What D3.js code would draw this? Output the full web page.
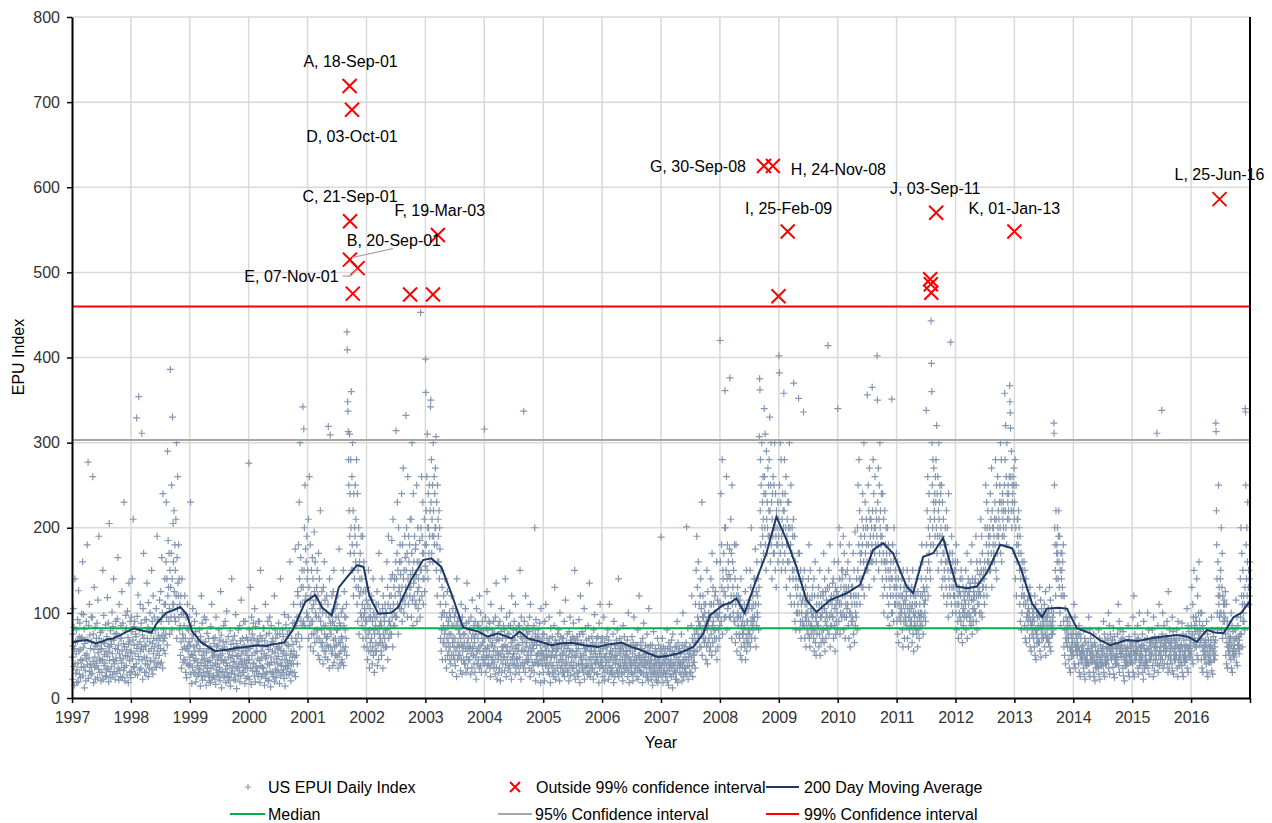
<!DOCTYPE html>
<html>
<head>
<meta charset="utf-8">
<script src="https://d3js.org/d3.v7.min.js"></script>
<style>
body { margin: 0; background: #fff; }
svg { font-family: "Liberation Sans", Arial, sans-serif; }
</style>
</head>
<body>
<div id="chart"></div>
<script>
// ---- data ----
const yearTicks = d3.range(1997, 2018)
const yTicks = d3.range(0, 801, 100)

const medianLevel = 82
const ci95Level = 303
const ci99Level = 460

// 200 day moving average, [decimal year, value]
const movingAvg = [
  [1997.0,65],[1997.1,67],[1997.25,68],[1997.4,64],[1997.5,66],[1997.6,69],[1997.7,70],[1997.85,75],[1998.05,82],[1998.2,79],
  [1998.35,77],[1998.44,88],[1998.6,100],[1998.75,104],[1998.84,107],[1998.95,98],[1999.04,78],[1999.2,65],[1999.43,55],[1999.55,56],
  [1999.66,57],[1999.8,59],[1999.95,60],[2000.15,62],[2000.3,61],[2000.4,63],[2000.6,65],[2000.75,80],[2000.96,113],[2001.13,121],
  [2001.25,106],[2001.41,97],[2001.53,130],[2001.67,142],[2001.84,156],[2001.95,154],[2002.05,120],[2002.2,99],[2002.42,100],[2002.54,107],
  [2002.76,139],[2002.96,162],[2003.1,164],[2003.27,154],[2003.44,123],[2003.64,83],[2003.9,78],[2004.06,72],[2004.23,76],[2004.46,70],
  [2004.6,78],[2004.74,70],[2004.95,66],[2005.14,62],[2005.3,64],[2005.48,65],[2005.7,62],[2005.93,60],[2006.1,63],[2006.33,65],
  [2006.5,60],[2006.67,56],[2006.8,52],[2006.95,48],[2007.15,50],[2007.32,53],[2007.55,60],[2007.72,76],[2007.83,97],[2008.05,109],
  [2008.18,112],[2008.28,117],[2008.42,100],[2008.62,139],[2008.79,170],[2008.96,213],[2009.13,186],[2009.3,154],[2009.47,115],[2009.64,101],
  [2009.87,115],[2010.15,123],[2010.38,133],[2010.6,174],[2010.77,182],[2010.94,170],[2011.17,131],[2011.28,123],[2011.45,166],[2011.62,170],
  [2011.79,188],[2011.91,158],[2012.02,131],[2012.2,129],[2012.36,131],[2012.53,147],[2012.76,180],[2012.96,176],[2013.1,154],[2013.3,111],
  [2013.47,95],[2013.55,105],[2013.75,106],[2013.89,105],[2014.06,82],[2014.29,76],[2014.45,68],[2014.63,62],[2014.91,68],[2015.1,67],
  [2015.3,70],[2015.5,72],[2015.76,74],[2015.95,72],[2016.1,66],[2016.27,80],[2016.4,77],[2016.55,76],[2016.72,95],[2016.85,100],[2016.99,113]
]

// daily index, sampled per month: "yyyy-mm|values"
const dailyIndex = [
  "1997-01|48 22 75 61 105 37 83 15 58 140 40 66 29 52 80 18","1997-02|33 67 92 41 19 126 55 72 28 88 57 24 45 70 36 99",
  "1997-03|71 44 160 26 59 98 37 81 12 64 50 32 68 20 90 46","1997-04|52 180 39 68 277 23 85 47 110 31 74 40 58 27 95 36",
  "1997-05|66 29 95 260 43 75 18 57 130 36 48 83 22 61 38 70","1997-06|41 88 62 24 115 53 34 190 70 46 30 57 77 44 20 66",
  "1997-07|58 30 79 45 150 22 66 97 38 51 64 41 25 86 55 33","1997-08|26 72 49 118 35 61 88 19 54 205 44 60 31 79 24 67",
  "1997-09|63 37 101 52 27 84 45 140 68 31 40 75 22 58 90 47","1997-10|44 76 29 93 57 165 35 62 21 110 52 33 70 47 25 85",
  "1997-11|70 41 125 55 24 88 46 64 32 230 36 60 20 79 50 97","1997-12|38 82 57 27 102 49 71 18 63 135 66 44 30 90 53 24",
  "1998-01|55 95 31 78 140 46 68 210 37 84 62 36 90 52 28 75","1998-02|72 40 329 58 96 27 63 121 49 354 45 80 33 66 110 55",
  "1998-03|35 88 60 311 45 74 22 105 57 170 70 48 30 92 62 40","1998-04|61 30 92 47 135 70 39 83 25 112 55 80 35 66 100 44",
  "1998-05|44 76 58 150 33 90 64 28 120 52 70 42 95 60 36 82","1998-06|80 47 105 36 68 190 55 92 41 74 62 92 50 115 70 40",
  "1998-07|58 125 90 42 165 73 100 35 240 67 80 56 110 70 140 52","1998-08|110 75 160 230 95 140 62 290 120 185 130 90 170 105 75 150",
  "1998-09|386 130 95 170 250 80 140 330 110 205 160 110 220 125 95 180","1998-10|150 90 210 120 300 70 165 105 260 135 120 180 95 140 80 110",
  "1998-11|85 50 120 66 35 98 140 57 75 42 70 100 45 85 60 120","1998-12|45 70 30 95 58 24 82 40 110 61 55 80 38 66 95 48",
  "1999-01|40 62 230 28 85 51 17 70 36 105 50 75 30 60 44 90","1999-02|55 30 78 19 46 99 62 25 38 68 42 66 28 55 35 80",
  "1999-03|33 58 14 72 41 120 26 50 88 21 45 65 30 55 38 95","1999-04|47 25 66 38 92 15 53 31 76 43 35 58 26 70 44 20",
  "1999-05|29 61 42 18 84 35 57 110 24 48 55 38 70 26 50 64","1999-06|52 22 71 40 16 95 33 60 27 45 40 62 30 48 80 25",
  "1999-07|36 68 20 50 125 31 74 12 44 58 52 30 66 42 85 24","1999-08|60 27 45 90 34 18 66 41 102 30 38 55 25 72 48 20",
  "1999-09|24 55 38 79 14 47 63 29 140 35 50 32 68 42 58 22","1999-10|43 73 28 56 21 98 37 64 11 49 60 35 50 26 80 40",
  "1999-11|58 32 85 19 46 67 26 115 39 52 42 70 30 55 36 90","1999-12|30 62 44 17 90 36 55 23 71 41 50 35 68 25 58 45",
  "2000-01|276 45 80 22 58 130 35 68 16 95 50 75 32 62 40 88","2000-02|41 70 26 105 53 19 84 37 61 31 55 35 68 46 25 90",
  "2000-03|66 29 90 44 18 73 150 38 55 25 48 70 36 60 28 82","2000-04|35 82 52 15 67 28 110 46 23 74 50 30 62 40 90 20",
  "2000-05|57 21 76 39 95 31 62 13 48 85 42 66 30 55 70 25","2000-06|28 64 42 120 19 53 80 34 70 24 46 60 32 75 40 58",
  "2000-07|49 88 30 60 17 75 40 140 26 56 38 65 45 30 80 52","2000-08|72 33 55 23 98 45 14 66 37 86 50 28 62 42 75 35",
  "2000-09|38 95 61 27 79 44 160 31 52 20 55 40 70 30 48 88","2000-10|63 40 110 55 30 88 48 175 25 70 85 50 66 95 40 125",
  "2000-11|120 75 180 95 230 140 60 300 110 165 90 130 70 150 110 85","2000-12|342 130 90 316 150 200 85 250 115 175 120 160 100 190 140 95",
  "2001-01|150 95 210 70 130 260 85 115 180 60 120 90 150 75 105 165","2001-02|90 140 55 110 75 195 125 65 160 100 115 80 95 130 70 150",
  "2001-03|80 120 50 170 95 70 140 45 105 220 90 65 110 80 125 60","2001-04|65 100 40 130 85 55 160 75 115 48 85 55 100 70 120 62",
  "2001-05|72 45 110 319 60 95 35 140 80 309 88 60 75 100 52 120","2001-06|55 90 38 125 68 150 42 85 60 105 70 50 95 62 80 110",
  "2001-07|48 80 120 35 95 65 175 52 88 40 65 85 55 100 72 45","2001-08|70 42 105 60 150 38 85 125 55 95 80 60 95 70 110 50",
  "2001-09|430 409 348 337 313 280 250 220 310 190 240 170 280 200 360 150","2001-10|260 180 300 150 220 120 240 170 140 200 190 250 160 210 130 280",
  "2001-11|180 110 240 90 150 130 200 75 120 160 140 170 100 125 190 95","2001-12|140 85 110 190 70 125 95 160 60 105 100 80 125 90 70 115",
  "2002-01|90 60 130 45 110 75 150 55 95 35 80 105 65 95 55 120","2002-02|70 115 40 90 60 140 50 100 80 30 75 95 55 85 65 110",
  "2002-03|55 95 125 38 80 62 110 45 170 75 85 65 100 70 90 55","2002-04|85 50 140 65 105 35 120 75 60 95 90 70 110 80 60 100",
  "2002-05|100 60 160 80 130 45 110 190 70 90 90 120 75 105 85 140","2002-06|120 75 185 95 145 60 210 110 85 130 100 140 85 120 95 160",
  "2002-07|314 140 95 170 230 110 150 75 200 125 130 160 105 180 120 145","2002-08|160 105 240 130 90 180 115 270 140 100 150 120 190 110 165 130",
  "2002-09|332 150 200 120 170 95 260 140 110 190 160 130 180 120 210 145","2002-10|130 210 95 170 300 115 150 85 240 135 160 120 190 140 110 175",
  "2002-11|180 110 145 250 90 160 125 200 105 140 130 160 115 185 95 150","2002-12|453 200 150 260 120 190 170 230 140 110 170 140 210 125 180 155",
  "2003-01|398 359 220 180 260 150 310 200 140 240 200 170 250 190 160 220","2003-02|342 350 230 280 170 210 190 250 160 300 220 190 260 180 240 200",
  "2003-03|270 200 307 150 230 180 120 250 160 210 190 160 220 140 200 175","2003-04|110 70 150 55 95 80 130 45 100 65 85 120 65 100 75 140",
  "2003-05|80 45 110 60 35 95 70 125 50 85 65 90 55 75 100 45","2003-06|60 95 40 75 120 50 85 30 65 105 70 50 85 60 95 45",
  "2003-07|70 38 100 55 85 25 140 60 45 90 65 80 50 95 60 75","2003-08|50 85 32 70 110 45 62 28 95 55 60 75 45 85 65 40",
  "2003-09|75 40 105 58 30 88 48 135 65 35 55 70 45 90 60 80","2003-10|45 80 60 28 95 52 70 35 115 58 60 75 50 85 40 70",
  "2003-11|65 30 90 48 75 22 105 55 40 85 55 70 45 85 60 35","2003-12|120 55 80 38 100 62 30 75 48 90 65 45 80 55 70 40",
  "2004-01|316 70 45 95 58 30 82 50 125 38 60 80 48 70 40 90","2004-02|55 88 35 70 25 110 48 62 40 80 65 45 75 55 90 35",
  "2004-03|42 75 60 28 95 50 135 36 68 22 55 70 45 85 50 30","2004-04|68 35 90 52 20 78 45 105 30 60 55 70 40 60 85 48",
  "2004-05|48 80 32 62 140 40 70 25 95 55 60 45 75 52 35 85","2004-06|75 38 100 55 30 85 45 65 22 120 60 48 70 40 80 52",
  "2004-07|52 90 40 68 28 110 58 35 80 46 62 45 75 55 38 85","2004-08|62 30 85 48 150 38 72 22 95 56 55 70 42 65 80 35",
  "2004-09|337 55 90 40 70 30 120 60 45 80 65 50 75 42 85 55","2004-10|45 78 35 95 60 25 110 50 68 32 55 70 42 62 80 38",
  "2004-11|58 85 30 65 200 42 75 20 92 50 62 45 72 52 40 80","2004-12|40 70 52 28 88 45 62 18 105 55 55 45 68 38 75 50",
  "2005-01|52 30 75 45 20 90 60 38 110 48 55 40 70 48 62 30","2005-02|65 35 55 95 28 70 42 18 82 50 48 62 38 72 55 30",
  "2005-03|38 60 25 85 48 130 32 68 22 55 50 65 42 58 35 75","2005-04|58 28 80 42 65 20 100 50 35 72 45 60 38 70 52 30",
  "2005-05|45 70 30 55 90 25 62 40 115 35 50 65 42 58 75 32","2005-06|30 62 48 20 78 55 38 95 26 68 55 42 65 48 35 72",
  "2005-07|55 35 88 42 70 28 150 50 22 65 48 62 38 55 72 30","2005-08|68 25 58 40 92 32 75 18 48 120 52 40 65 45 78 35",
  "2005-09|40 75 30 62 50 105 22 58 35 82 55 45 68 38 60 28","2005-10|60 38 85 28 70 45 135 32 55 25 48 62 40 55 72 35",
  "2005-11|35 65 48 22 80 55 30 98 42 60 52 40 62 45 70 28","2005-12|48 28 72 40 60 18 88 52 35 110 55 42 65 48 38 70",
  "2006-01|42 70 25 58 35 95 48 20 65 30 48 38 60 52 42 72","2006-02|60 32 80 45 22 68 38 110 52 28 45 55 35 62 48 30",
  "2006-03|35 55 28 75 42 18 90 48 62 25 50 40 58 45 68 32","2006-04|50 80 30 62 40 140 25 55 35 70 45 58 38 52 65 30",
  "2006-05|28 60 45 20 85 38 55 30 72 42 48 35 62 50 40 55","2006-06|55 35 68 25 48 100 32 60 18 45 42 55 38 62 45 30",
  "2006-07|38 72 28 52 20 65 42 95 30 58 48 40 58 35 62 45","2006-08|45 25 62 35 80 22 50 38 120 32 50 42 58 30 65 45",
  "2006-09|30 58 40 18 70 48 28 88 36 55 45 52 38 62 42 25","2006-10|52 30 75 42 25 60 20 48 105 35 40 55 35 62 45 28",
  "2006-11|22 45 35 62 15 52 28 78 40 30 38 50 32 58 45 25","2006-12|40 20 55 30 70 18 45 25 62 35 42 35 50 28 58 38",
  "2007-01|189 35 55 25 70 42 18 60 30 48 40 52 32 58 45 25","2007-02|28 50 38 80 20 58 32 45 15 65 42 35 55 28 60 40",
  "2007-03|45 25 68 35 55 12 75 40 28 52 38 50 32 60 42 22","2007-04|30 60 22 48 90 35 18 65 42 55 45 38 58 30 52 40",
  "2007-05|52 28 75 40 20 62 35 100 45 25 42 55 35 60 48 30","2007-06|35 65 45 201 28 55 38 82 22 48 45 52 38 60 30 55",
  "2007-07|60 30 85 48 120 38 70 25 55 42 50 65 42 75 55 35","2007-08|110 65 150 80 190 55 130 95 75 160 90 70 110 85 60 120",
  "2007-09|85 140 60 105 75 230 50 95 120 70 95 80 110 65 100 85","2007-10|70 110 45 90 60 150 80 40 125 65 85 100 70 95 55 110",
  "2007-11|95 60 140 75 110 50 170 85 65 130 90 110 80 100 70 120","2007-12|80 125 55 100 70 160 45 95 115 60 95 80 110 70 100 85",
  "2008-01|420 160 110 240 90 180 130 280 75 150 140 110 170 125 95 200","2008-02|361 120 200 95 150 260 80 140 180 105 130 160 110 145 95 175",
  "2008-03|376 140 95 210 120 170 70 250 110 160 130 100 150 120 90 180","2008-04|90 140 65 110 180 75 120 55 95 130 100 85 120 95 75 110",
  "2008-05|70 115 50 95 140 60 85 45 105 75 90 75 100 80 65 110","2008-06|85 60 125 45 100 70 150 55 90 65 90 75 105 80 65 115",
  "2008-07|110 75 150 60 130 90 200 70 105 85 95 120 80 110 90 140","2008-08|95 140 70 175 110 60 125 85 160 100 120 95 140 110 80 130",
  "2008-09|307 375 362 220 280 180 250 160 300 200 230 190 260 210 170 240","2008-10|340 260 200 310 180 240 150 290 210 170 230 200 270 190 250 220",
  "2008-11|280 190 330 220 160 250 300 180 230 140 210 240 190 260 170 200","2008-12|250 170 300 200 150 240 190 130 220 180 200 180 230 160 210 190",
  "2009-01|402 382 250 200 300 170 230 280 150 190 210 180 240 160 220 200","2009-02|358 220 280 170 240 150 200 260 130 180 190 210 160 230 180 200",
  "2009-03|230 160 300 140 200 120 180 250 110 170 170 200 150 190 140 210","2009-04|370 150 110 190 90 160 130 80 140 100 120 150 100 130 110 170",
  "2009-05|352 140 100 170 80 120 90 150 70 110 100 130 90 115 140 85","2009-06|336 120 85 150 70 110 95 130 60 100 90 110 80 120 100 75",
  "2009-07|140 90 180 70 115 60 150 85 105 75 100 85 120 95 130 80","2009-08|100 70 140 55 120 80 160 65 95 50 90 110 75 100 85 120",
  "2009-09|85 130 60 110 75 150 50 95 120 65 95 110 80 100 70 125","2009-10|120 80 170 65 105 140 55 90 125 70 100 115 85 95 130 80",
  "2009-11|414 110 150 75 130 95 180 60 115 85 100 120 85 110 95 135","2009-12|95 140 70 120 160 85 105 55 130 75 110 90 125 100 80 115",
  "2010-01|340 120 160 90 200 110 140 75 180 100 130 110 150 95 140 120","2010-02|150 100 190 80 130 170 95 120 70 145 110 130 95 125 105 150",
  "2010-03|110 160 85 130 70 180 100 140 60 120 100 120 90 130 110 95","2010-04|130 90 170 75 120 150 65 110 195 85 100 120 95 140 110 80",
  "2010-05|200 150 250 120 180 280 140 220 110 170 160 190 140 170 130 210","2010-06|180 240 130 200 160 300 120 190 150 230 170 200 150 210 180 160",
  "2010-07|356 200 150 250 180 220 130 270 160 210 190 170 210 160 200 180","2010-08|365 220 160 280 190 240 140 200 170 260 200 180 220 160 210 190",
  "2010-09|402 350 230 180 270 150 210 250 170 300 200 220 190 180 240 160","2010-10|190 140 240 120 170 210 100 160 130 220 160 180 150 200 140 170",
  "2010-11|160 120 200 95 150 180 110 140 85 170 130 150 120 160 140 100","2010-12|351 140 100 180 120 160 90 200 130 110 130 150 110 140 120 170",
  "2011-01|130 90 160 75 110 140 65 120 95 150 110 100 130 90 120 105","2011-02|100 140 80 120 60 150 110 90 130 70 100 115 90 110 95 125",
  "2011-03|120 85 150 70 105 130 60 95 140 80 100 110 90 120 85 105","2011-04|90 130 65 110 150 75 100 55 120 85 95 110 85 100 120 80",
  "2011-05|110 75 140 90 60 125 100 80 150 70 95 110 85 100 120 90","2011-06|140 100 180 85 120 160 75 130 95 110 110 125 100 115 90 140",
  "2011-07|338 180 130 220 150 260 120 200 160 240 170 190 150 210 140 180","2011-08|443 393 360 300 250 200 280 180 230 270 220 210 240 190 260 230",
  "2011-09|280 200 320 170 240 190 260 150 220 300 210 230 190 250 180 240","2011-10|200 160 250 130 190 230 140 170 210 120 170 150 180 140 200 160",
  "2011-11|180 130 220 110 160 200 120 150 95 240 140 160 130 170 120 150","2011-12|418 150 110 190 130 170 100 160 140 120 130 140 120 150 110 160",
  "2012-01|150 100 180 80 130 110 160 90 120 70 110 130 100 125 95 140","2012-02|120 90 150 75 110 140 65 100 130 85 105 120 95 115 100 125",
  "2012-03|110 150 80 130 95 170 70 120 100 140 110 125 100 120 90 135","2012-04|130 95 160 85 115 180 75 140 105 90 115 125 105 120 100 135",
  "2012-05|140 100 190 90 120 160 80 150 110 130 120 135 110 125 100 145","2012-06|160 120 210 100 150 190 95 170 130 140 130 150 120 140 110 160",
  "2012-07|200 150 250 130 180 230 120 200 160 220 170 190 160 180 150 200","2012-08|190 240 150 210 170 270 130 220 160 200 180 200 170 190 160 210",
  "2012-09|230 180 280 150 210 250 140 190 170 260 200 220 190 210 180 230","2012-10|250 200 300 170 230 280 160 220 190 240 210 230 200 220 190 250",
  "2012-11|358 280 220 320 200 260 180 300 240 210 230 250 220 240 210 260","2012-12|367 348 335 317 260 220 290 200 250 230 240 260 220 250 270 210",
  "2013-01|230 170 280 140 200 250 120 180 160 210 190 210 180 220 170 200","2013-02|150 110 190 90 140 170 80 120 100 160 130 150 120 140 110 160",
  "2013-03|120 85 150 70 110 140 65 95 130 80 100 115 90 105 120 95","2013-04|100 70 130 60 90 120 55 85 110 75 90 100 80 95 70 105",
  "2013-05|90 60 120 50 80 110 45 75 100 65 80 95 70 85 65 100","2013-06|95 65 130 55 85 115 48 80 105 70 85 95 75 90 70 100",
  "2013-07|85 110 60 95 75 125 50 90 70 100 80 95 70 85 105 65","2013-08|100 70 130 60 90 115 55 85 75 105 85 95 75 90 80 100",
  "2013-09|323 311 250 200 180 150 120 220 140 170 180 160 200 170 140 190","2013-10|220 160 130 190 100 150 85 170 120 140 150 170 130 160 120 180",
  "2013-11|90 60 120 50 80 105 40 70 95 65 80 70 90 60 85 75","2013-12|70 45 95 35 60 85 30 55 75 50 60 70 50 65 55 75",
  "2014-01|80 50 110 40 65 95 35 60 75 55 60 70 50 65 55 75","2014-02|60 40 85 30 55 75 25 50 70 45 50 60 42 55 48 62",
  "2014-03|55 35 80 28 50 70 22 45 65 40 45 55 38 50 42 58","2014-04|65 40 95 30 55 80 25 50 70 45 50 60 42 55 45 62",
  "2014-05|50 30 75 25 45 65 20 40 60 35 42 52 36 48 40 55","2014-06|55 35 80 28 48 70 22 42 62 38 45 55 38 50 42 58",
  "2014-07|60 38 90 30 52 75 25 45 68 40 48 58 40 52 45 60","2014-08|70 45 100 35 60 85 28 55 75 50 55 65 45 60 50 68",
  "2014-09|58 36 82 28 50 72 24 45 65 40 48 58 40 52 45 60","2014-10|75 48 110 38 62 90 30 55 80 52 58 68 48 62 52 70",
  "2014-11|55 35 78 26 48 68 20 42 60 38 45 55 38 50 42 58","2014-12|60 40 85 30 52 72 25 48 66 42 50 60 42 55 45 62",
  "2015-01|65 40 95 30 55 120 25 50 75 45 55 65 45 60 50 68","2015-02|55 85 35 70 28 60 45 100 38 52 50 60 42 55 45 62",
  "2015-03|48 75 30 62 22 90 40 58 35 68 45 55 38 50 42 58","2015-04|70 42 100 35 58 80 28 50 65 45 55 65 45 60 50 68",
  "2015-05|52 80 38 65 25 95 45 60 32 72 55 65 45 60 50 68","2015-06|311 60 40 85 30 70 50 110 38 55 55 65 45 60 50 68",
  "2015-07|338 75 45 100 35 62 55 85 40 68 60 70 50 65 55 72","2015-08|58 90 40 70 30 125 48 65 35 80 55 65 45 60 50 68",
  "2015-09|65 40 95 32 58 78 28 50 70 45 55 65 45 60 50 68","2015-10|50 80 35 62 25 90 45 58 38 70 50 60 42 55 45 62",
  "2015-11|62 38 88 30 55 75 25 48 68 42 50 60 42 55 45 62","2015-12|72 45 105 35 60 85 30 55 78 50 58 68 48 62 52 70",
  "2016-01|85 55 130 45 75 110 40 95 65 150 70 85 60 78 65 95","2016-02|90 60 140 50 80 120 45 70 100 160 75 90 62 80 68 100",
  "2016-03|70 45 100 35 60 85 30 55 78 50 55 65 45 60 50 68","2016-04|62 40 90 30 55 75 25 48 68 42 50 60 42 55 45 62",
  "2016-05|68 42 95 32 58 80 28 52 72 45 55 65 45 60 50 68","2016-06|323 313 220 180 140 100 80 160 120 250 110 130 95 120 100 140",
  "2016-07|150 100 200 80 130 170 70 120 90 110 100 115 90 110 95 125","2016-08|75 50 110 40 65 90 35 60 80 55 60 70 50 65 55 72",
  "2016-09|70 45 100 35 62 85 30 55 78 50 58 68 48 62 52 70","2016-10|80 55 115 42 70 95 38 62 85 58 62 72 52 68 58 75",
  "2016-11|140 95 200 75 120 170 60 110 150 90 100 120 90 110 80 130","2016-12|340 336 250 180 140 200 120 160 230 110 130 150 110 140 120 160"
]

// points outside the 99% confidence interval
const outlierDates  = ["2001-09-18","2001-10-03","2001-09-21","2001-09-20","2001-11-07","2001-10-08","2002-09-28","2003-02-17","2003-03-19",
                       "2008-09-30","2008-11-24","2009-02-25","2008-12-29","2011-09-03","2011-07-28","2011-08-01","2011-08-04","2013-01-01","2016-06-25"]
const outlierValues = [719, 691, 560, 515, 505, 475, 474, 474, 544, 625, 625, 548, 472, 570, 492, 486, 476, 548, 586]
const outlierLabels = ["A, 18-Sep-01","D, 03-Oct-01","C, 21-Sep-01","B, 20-Sep-01","E, 07-Nov-01","","","","F, 19-Mar-03",
                       "G, 30-Sep-08","H, 24-Nov-08","I, 25-Feb-09","","J, 03-Sep-11","","","","K, 01-Jan-13","L, 25-Jun-16"]

// label placement (pixels relative to the point): dx, dy, anchor
const labelPlace = {
  "A": [1, -19, "middle"], "D": [0, 32, "middle"], "C": [0, -19, "middle"], "B": [44, -14, "middle"],
  "E": [-19, 14, "end"], "F": [2, -19, "middle"], "G": [-18, 6, "end"], "H": [18, 9, "start"],
  "I": [1, -18, "middle"], "J": [-1, -19, "middle"], "K": [0, -18, "middle"], "L": [0, -19, "middle"]
}

// ---- chart ----
const W = 1272, H = 823
const margin = {top: 17, right: 22, bottom: 125, left: 72}
const innerW = W - margin.left - margin.right
const innerH = H - margin.top - margin.bottom

const svg = d3.select("#chart").append("svg").attr("width", W).attr("height", H)
const plot = svg.append("g").attr("transform", `translate(${margin.left},${margin.top})`)

const xScale = d3.scaleLinear().domain([1997, 2017]).range([0, innerW])
const yScale = d3.scaleLinear().domain([0, 800]).range([innerH, 0])

const parseDate = d3.timeParse("%Y-%m-%d")
function decYear(s) {
  var d = parseDate(s)
  var y = d.getFullYear()
  return y + d3.timeDay.count(new Date(y, 0, 1), d) / 365
}

// gridlines
plot.append("g").selectAll("line").data(yearTicks.slice(1, -1)).join("line")
  .attr("x1", d => xScale(d)).attr("x2", d => xScale(d))
  .attr("y1", 0).attr("y2", innerH)
  .attr("stroke", "#d9d9d9").attr("stroke-width", 1.5)
plot.append("g").selectAll("line").data(yTicks.slice(1)).join("line")
  .attr("x1", 0).attr("x2", innerW)
  .attr("y1", d => yScale(d)).attr("y2", d => yScale(d))
  .attr("stroke", "#d9d9d9").attr("stroke-width", 1.5)

// daily scatter
var daily = []
dailyIndex.forEach(function(row) {
  var parts = row.split("|")
  var ym = parts[0].split("-").map(Number)
  var vals = parts[1].split(" ").map(Number)
  vals.forEach(function(v, i) {
    daily.push({t: ym[0] + (ym[1] - 1 + (i + 0.5) / vals.length) / 12, v: v})
  })
})
const plus = "M-3.5,0H3.5M0,-3.5V3.5"
plot.append("g").selectAll("path").data(daily).join("path")
  .attr("d", plus)
  .attr("transform", d => `translate(${xScale(d.t)},${yScale(d.v)})`)
  .attr("stroke", "#8497b0").attr("stroke-width", 1.2).attr("fill", "none")

// reference lines
const refLines = [
  {v: medianLevel, c: "#00b050"},
  {v: ci95Level, c: "#a6a6a6"},
  {v: ci99Level, c: "#ff0000"}
]
plot.append("g").selectAll("line").data(refLines).join("line")
  .attr("x1", 0).attr("x2", innerW)
  .attr("y1", d => yScale(d.v)).attr("y2", d => yScale(d.v))
  .attr("stroke", d => d.c).attr("stroke-width", 2)

// moving average
plot.append("path").datum(movingAvg)
  .attr("d", d3.line().x(d => xScale(d[0])).y(d => yScale(d[1])))
  .attr("fill", "none").attr("stroke", "#1f3864").attr("stroke-width", 2)

// axes
const xAxis = d3.axisBottom(xScale).tickValues(yearTicks)
  .tickFormat(d => d < 2017 ? d : "").tickSizeInner(5).tickSizeOuter(0)
const gx = plot.append("g").attr("transform", `translate(0,${innerH})`).call(xAxis)
gx.select(".domain").attr("stroke", "#000").attr("stroke-width", 2)
gx.selectAll(".tick line").attr("stroke", "#000").attr("stroke-width", 1.5)
gx.selectAll("text").attr("font-size", 16).attr("fill", "#333").attr("dy", "1.05em")

const yAxis = d3.axisLeft(yScale).tickValues(yTicks).tickSizeInner(5).tickSizeOuter(0)
const gy = plot.append("g").call(yAxis)
gy.select(".domain").attr("stroke", "#000").attr("stroke-width", 2)
gy.selectAll(".tick line").attr("stroke", "#000").attr("stroke-width", 1.5)
gy.selectAll("text").attr("font-size", 16).attr("fill", "#333").attr("x", -12)

plot.append("line").attr("x1", innerW).attr("x2", innerW).attr("y1", 0).attr("y2", innerH)
  .attr("stroke", "#000").attr("stroke-width", 2)

// outliers
var outliers = outlierDates.map((d, i) => ({t: decYear(d), v: outlierValues[i], label: outlierLabels[i]}))
const cross = "M-7,-7L7,7M-7,7L7,-7"
plot.append("g").selectAll("path").data(outliers).join("path")
  .attr("d", cross)
  .attr("transform", d => `translate(${xScale(d.t)},${yScale(d.v)})`)
  .attr("stroke", "#ff0000").attr("stroke-width", 2).attr("fill", "none")

// leader lines for B and E
var bPt = outliers[3], ePt = outliers[4]
plot.append("polyline")
  .attr("points", [[xScale(bPt.t) + 43, yScale(bPt.v) - 11], [xScale(bPt.t) + 2, yScale(bPt.v) - 2]].join(" "))
  .attr("stroke", "#a6a6a6").attr("stroke-width", 1.2).attr("fill", "none")
plot.append("polyline")
  .attr("points", [[xScale(ePt.t) - 15, yScale(ePt.v) + 8], [xScale(ePt.t) - 7, yScale(ePt.v) + 8], [xScale(ePt.t) - 1, yScale(ePt.v) + 1]].join(" "))
  .attr("stroke", "#a6a6a6").attr("stroke-width", 1.2).attr("fill", "none")

plot.append("g").selectAll("text").data(outliers.filter(d => d.label)).join("text")
  .attr("x", d => xScale(d.t) + labelPlace[d.label[0]][0])
  .attr("y", d => yScale(d.v) + labelPlace[d.label[0]][1])
  .attr("text-anchor", d => labelPlace[d.label[0]][2])
  .attr("font-size", 16).attr("fill", "#000")
  .text(d => d.label)

// axis titles
svg.append("text").attr("x", 661).attr("y", 748).attr("text-anchor", "middle")
  .attr("font-size", 16).attr("fill", "#000").text("Year")
svg.append("text").attr("transform", "translate(24,357) rotate(-90)").attr("text-anchor", "middle")
  .attr("font-size", 16).attr("fill", "#000").text("EPU Index")

// legend
const legendItems = [
  {kind: "plus", x: 248, y: 787, tx: 268, text: "US EPUI Daily Index", c: "#8497b0"},
  {kind: "cross", x: 515, y: 787, tx: 536, text: "Outside 99% confidence interval", c: "#ff0000"},
  {kind: "line", x: 766, x2: 799, y: 787, tx: 804, text: "200 Day Moving Average", c: "#1f3864"},
  {kind: "line", x: 230, x2: 265, y: 814, tx: 268, text: "Median", c: "#00b050"},
  {kind: "line", x: 498, x2: 532, y: 814, tx: 535, text: "95% Confidence interval", c: "#a6a6a6"},
  {kind: "line", x: 766, x2: 799, y: 814, tx: 804, text: "99% Confidence interval", c: "#ff0000"}
]
const legend = svg.append("g")
legendItems.forEach(function(it) {
  if (it.kind == "plus") {
    legend.append("path").attr("d", "M-3,0H3M0,-3V3").attr("transform", `translate(${it.x},${it.y})`)
      .attr("stroke", it.c).attr("stroke-width", 1.1)
  } else if (it.kind == "cross") {
    legend.append("path").attr("d", "M-5,-5L5,5M-5,5L5,-5").attr("transform", `translate(${it.x},${it.y})`)
      .attr("stroke", it.c).attr("stroke-width", 2)
  } else {
    legend.append("line").attr("x1", it.x).attr("x2", it.x2).attr("y1", it.y).attr("y2", it.y)
      .attr("stroke", it.c).attr("stroke-width", 2)
  }
  legend.append("text").attr("x", it.tx).attr("y", it.y + 6).attr("font-size", 16).attr("fill", "#000").text(it.text)
})
</script>
</body>
</html>
